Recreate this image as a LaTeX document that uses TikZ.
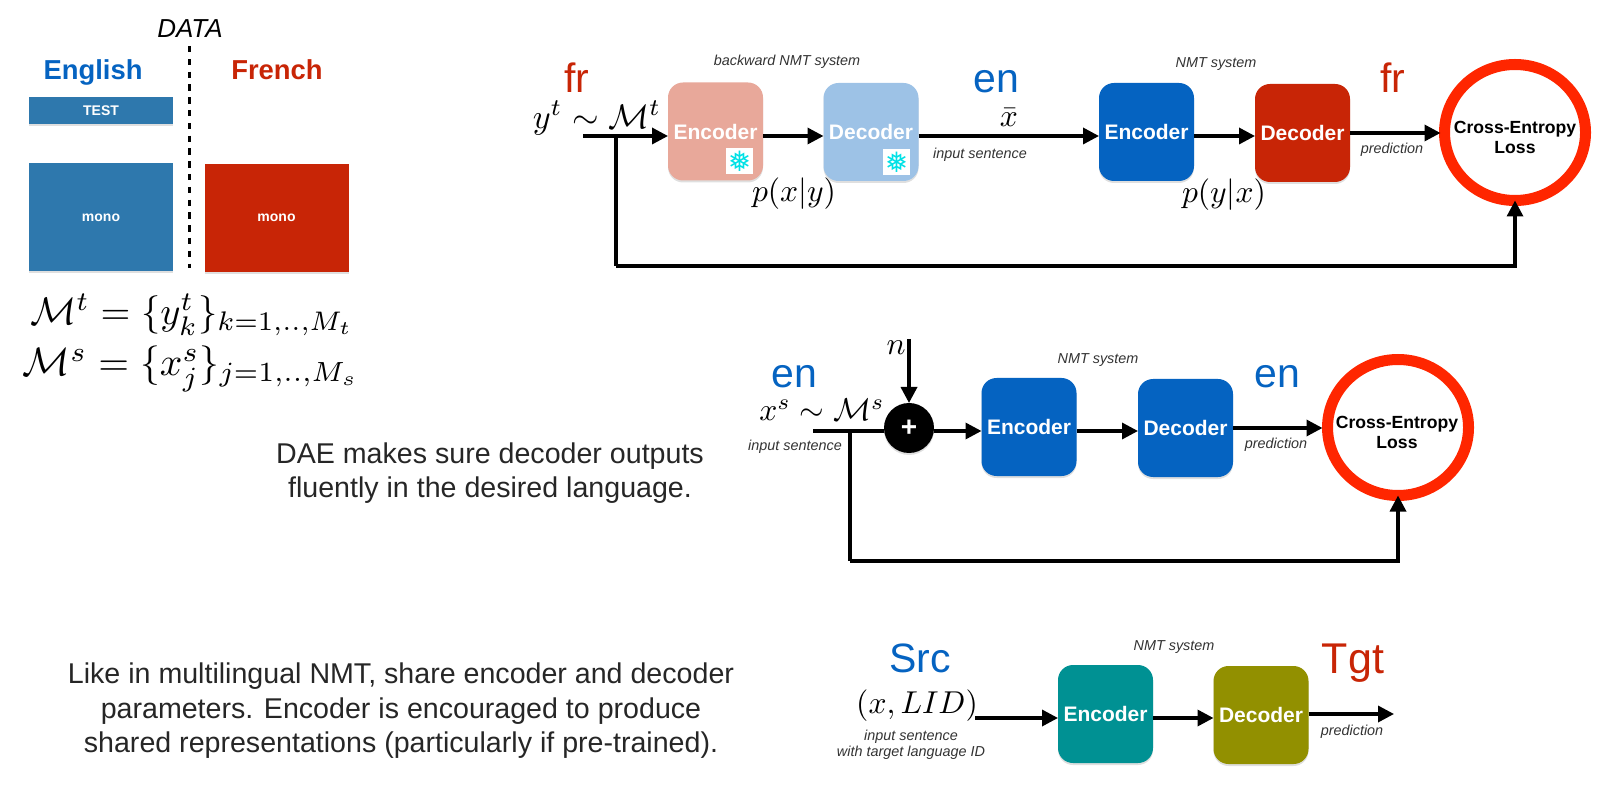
\documentclass[tikz,border=0pt]{standalone}
\usepackage{amsmath,amssymb}
\usepackage[no-math]{fontspec}
\setmainfont{Liberation Sans}
\newfontfamily\snowfont{DejaVu Sans}
\usepackage{tikz}
\usetikzlibrary{arrows.meta,shapes.geometric,shadows}
\definecolor{ColEn}{RGB}{5,99,193}
\definecolor{ColFr}{RGB}{200,37,6}
\definecolor{ColData}{RGB}{46,120,173}
\definecolor{ColPink}{RGB}{232,168,154}
\definecolor{ColSky}{RGB}{157,194,230}
\definecolor{ColTeal}{RGB}{0,145,147}
\definecolor{ColOlive}{RGB}{146,144,0}
\definecolor{ColRing}{RGB}{255,38,0}
\definecolor{ColFlake}{RGB}{0,225,230}
\newcommand{\fs}[1]{\fontsize{#1}{#1}\selectfont}
\begin{document}
\begin{tikzpicture}[
  x=0.5pt,
  y=-0.5pt,
  >={Stealth[length=8pt,width=8pt,inset=0pt]},
  every node/.style={inner sep=0pt,outer sep=0pt},
  softshadow/.style={drop shadow={shadow xshift=0pt,shadow yshift=-1pt,opacity=0.25}},
  link/.style={line width=1.7pt,->},
  wire/.style={line width=1.7pt},
  block/.style={softshadow,rounded corners=7.5pt,minimum width=47.5pt,minimum height=49pt,
    text=white,font=\fs{10.5}\bfseries},
  sheet/.style={softshadow,minimum width=72pt,text=white,font=\fs{7}\bfseries},
  lossring/.style={ellipse,softshadow,draw=ColRing,fill=white,line width=5.5pt,
    minimum width=70.5pt,minimum height=68pt},
  losstext/.style={align=center,font=\fs{8.8}\bfseries},
  lang/.style={font=\fs{20.5}},
  tiny/.style={font=\fs{7.2}\itshape,text=black!80,align=center},
  maths/.style={scale=1.58},
  bigmaths/.style={scale=1.95},
  flake/.style={fill=white,minimum width=13.5pt,minimum height=13pt,text=ColFlake,font=\snowfont\fs{14}},
  remark/.style={align=center,font=\fs{14.3},text=black!85}
]
  \useasboundingbox (0,0) rectangle (1609,785);

  % Data split
  \node[font=\fs{13}\itshape] (data) at (190,29) {DATA};
  \node[font=\fs{13.7}\bfseries,text=ColEn] (english) at (93,72) {English};
  \node[font=\fs{13.7}\bfseries,text=ColFr] (french) at (277,70) {French};
  \coordinate (splittop) at (189,46);
  \coordinate (splitbot) at (189,268);
  \draw[line width=1.5pt,dash pattern=on 3.2pt off 3.2pt] (splittop) -- (splitbot);
  \node[sheet,fill=ColData,minimum height=13.5pt] (test) at (101,110.5) {TEST};
  \node[sheet,fill=ColData,minimum height=54pt] (monoen) at (101,217.5) {mono};
  \node[sheet,fill=ColFr,minimum height=54pt] (monofr) at (276.5,218) {mono};
  \node[bigmaths,scale=0.985] (sett) at (192,315) {$\mathcal{M}^t = \{y^t_k\}_{k=1,..,M_t}$};
  \node[bigmaths,scale=1.015] (sets) at (191,369) {$\mathcal{M}^s = \{x^s_j\}_{j=1,..,M_s}$};

  % Boxes of the three systems
  \foreach \nm/\cx/\cy/\col/\txt in {
    encA/715.5/131.5/ColPink/Encoder, decA/871/132/ColSky/Decoder,
    encB/1146.5/132/ColEn/Encoder, decB/1302.5/133/ColFr/Decoder,
    encC/1029/427/ColEn/Encoder, decC/1185.5/428/ColEn/Decoder,
    encD/1105.5/714/ColTeal/Encoder, decD/1261/715/ColOlive/Decoder}{
    \node[block,fill=\col] (\nm) at (\cx,\cy) {\txt};
  }
  \node[flake] (flakeA) at (739.5,161) {❅};
  \node[flake] (flakeB) at (896.5,162) {❅};

  % Backward pass and forward pass
  \node[lossring] (lossA) at (1515,132.5) {};
  \node[losstext] (losstextA) at (1515,137) {Cross-Entropy\\[1.2pt]Loss};
  \coordinate (inA) at (583,136);
  \coordinate (brA) at (616,136);
  \coordinate (botA) at (616,266);
  \draw[link] (inA) -- (inA -| encA.west);
  \draw[link] (encA.east |- inA) -- (decA.west |- inA);
  \draw[link] (decA.east |- inA) -- (encB.west |- inA);
  \draw[link] (encB.east |- inA) -- (decB.west |- inA);
  \draw[link,shorten >=2pt] (decB.east) -- (decB.east -| lossA.west);
  \draw[wire] (brA) -- (botA);
  \draw[link] (botA) -| (lossA.south);
  \node[lang,text=ColFr] (frA) at (577,78) {fr};
  \node[lang,text=ColEn] (enA) at (996,82) {en};
  \node[lang,text=ColFr] (frB) at (1393,78) {fr};
  \node[maths,scale=1.08] (sampleA) at (597,118) {$y^t \sim \mathcal{M}^t$};
  \node[maths] (xbar) at (1009,118) {$\bar{x}$};
  \node[maths] (backward) at (794,194) {$p(x|y)$};
  \node[maths] (forward) at (1224,195) {$p(y|x)$};
  \node[tiny] (nameA) at (787,62) {backward NMT system};
  \node[tiny] (nameB) at (1216,64) {NMT system};
  \node[tiny] (inputA) at (980,155) {input sentence};
  \node[tiny] (predA) at (1392,150) {prediction};

  % Denoising pass
  \node[lossring] (lossB) at (1398,427.5) {};
  \node[losstext] (losstextB) at (1397,432) {Cross-Entropy\\[1.2pt]Loss};
  \node[circle,softshadow,fill=black,minimum size=25pt,text=white,font=\fs{14}\bfseries] (plus) at (909,428) {+};
  \coordinate (inB) at (813,431);
  \coordinate (brB) at (850,431);
  \coordinate (botB) at (850,561);
  \coordinate (noise) at (909,339);
  \draw[wire] (inB) -- (inB -| plus.west);
  \draw[link] (noise) -- (plus.north);
  \draw[link] (plus.east |- inB) -- (encC.west |- inB);
  \draw[link] (encC.east |- inB) -- (decC.west |- inB);
  \draw[link,shorten >=2.5pt] (decC.east) -- (decC.east -| lossB.west);
  \draw[wire] (brB) -- (botB);
  \draw[link] (botB) -| (lossB.south);
  \node[maths] (noisename) at (896,348) {$n$};
  \node[lang,text=ColEn] (enB) at (794,377) {en};
  \node[lang,text=ColEn] (enC) at (1277,377) {en};
  \node[maths] (sampleB) at (822,410) {$x^s \sim \mathcal{M}^s$};
  \node[tiny] (inputB) at (795,447) {input sentence};
  \node[tiny] (nameC) at (1098,360) {NMT system};
  \node[tiny] (predB) at (1276,445) {prediction};

  % Shared encoder and decoder
  \coordinate (inD) at (975,718);
  \coordinate (outD) at (1394,714);
  \node[maths] (pair) at (917,706) {$(x,LID)$};
  \draw[link] (inD) -- (inD -| encD.west);
  \draw[link] (encD.east |- inD) -- (decD.west |- inD);
  \draw[link] (decD.east |- outD) -- (outD);
  \node[lang,text=ColEn] (src) at (920,658) {Src};
  \node[lang,font=\fs{21.5},text=ColFr] (tgt) at (1353,663) {Tgt};
  \node[tiny] (inputD) at (911,745) {input sentence\\[1pt]with target language ID};
  \node[tiny] (nameD) at (1174,647) {NMT system};
  \node[tiny] (predD) at (1352,732) {prediction};

  % Remarks
  \node[remark] (dae) at (490,473) {DAE makes sure decoder outputs\\[2.5pt]fluently in the desired language.};
  \node[remark] (shared) at (401,711) {Like in multilingual NMT, share encoder and decoder\\[3pt]parameters. Encoder is encouraged to produce\\[3pt]shared representations (particularly if pre-trained).};
\end{tikzpicture}
\end{document}
